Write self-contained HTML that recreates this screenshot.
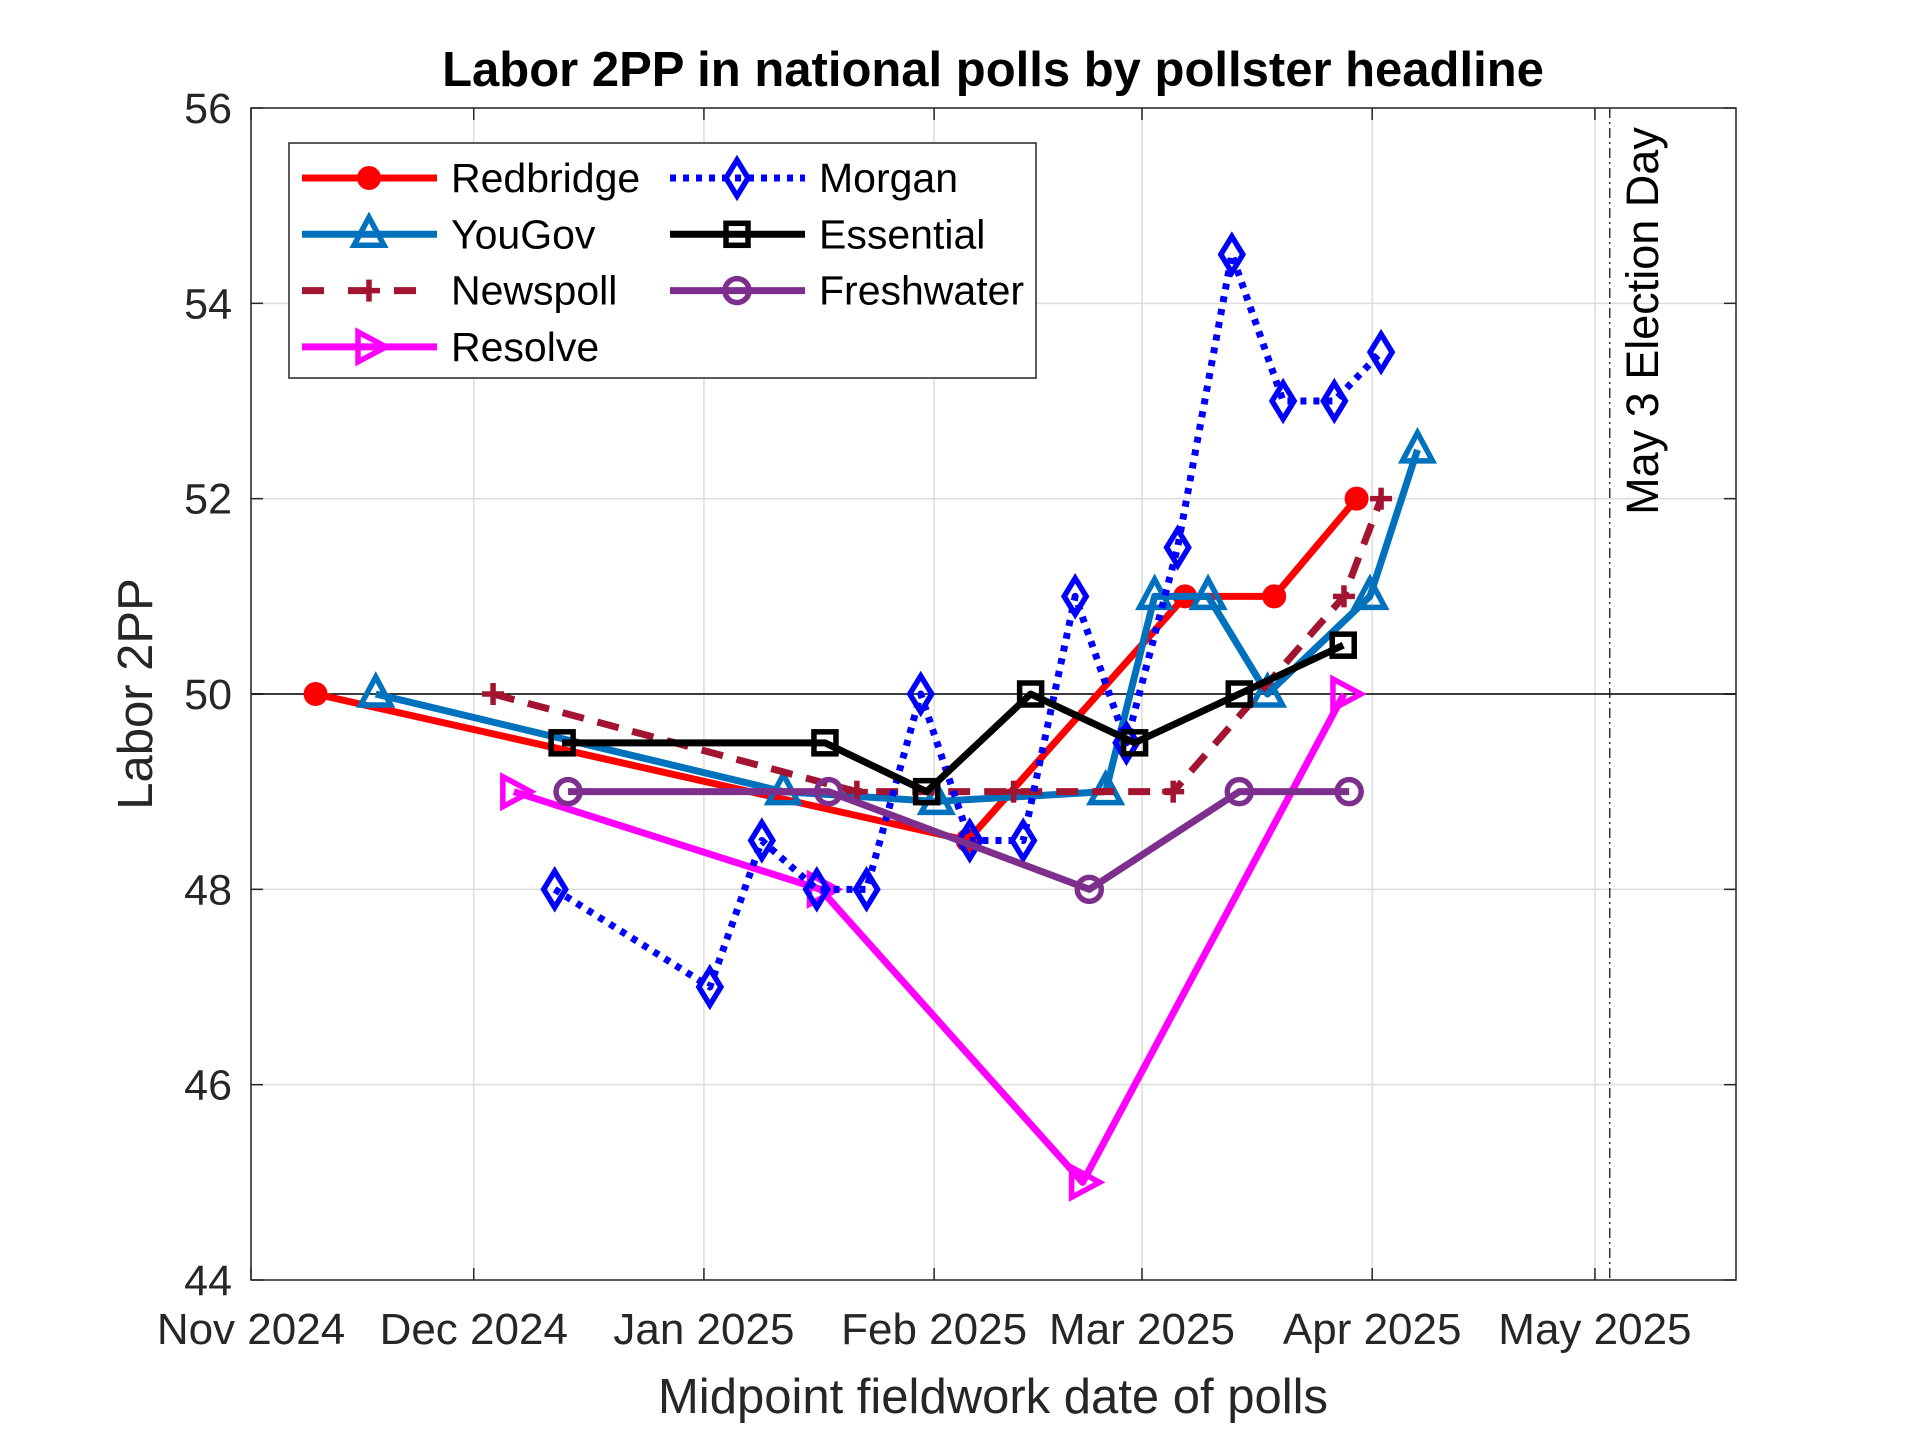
<!DOCTYPE html>
<html><head><meta charset="utf-8"><style>
html,body{margin:0;padding:0;background:#fff;}
svg text{font-family:"Liberation Sans",Arial,sans-serif;}
</style></head><body>
<svg id="chart" width="1920" height="1439" viewBox="0 0 1920 1439" xmlns="http://www.w3.org/2000/svg"></svg>
<script>
// Days since 1 Nov 2024, values Labor 2PP
const redbridgeDays=[8.7,96.5,125.8,137.8,148.9];
const redbridgeVals=[50,48.5,51,51,52];
const yougovDays=[16.8,71.7,92.3,115.1,121.7,128.9,136.9,150.7,157.1];
const yougovVals=[50,49,48.9,49,51,51,50,51,52.5];
const newspollDays=[32.6,81.6,102.7,124.2,147.2,152.2];
const newspollVals=[50,49,49,49,51,52];
const resolveDays=[35.4,76.7,112.0,147.2];
const resolveVals=[49,48,45,50];
const morganDays=[40.9,61.8,68.8,76.2,82.9,90.2,96.8,104.0,111.0,117.9,124.8,132.1,139.0,145.9,152.2];
const morganVals=[48,47,48.5,48,48,50,48.5,48.5,51,49.5,51.5,54.5,53,53,53.5];
const essentialDays=[41.9,77.3,91.0,105.0,119.0,133.1,147.1];
const essentialVals=[49.5,49.5,49,50,49.5,50,50.5];
const freshwaterDays=[42.7,77.8,112.9,133.1,147.9];
const freshwaterVals=[49,49,48,49,49];
const xTickDays=[0,30,61,92,120,151,181];
const xTickLabels=["Nov 2024","Dec 2024","Jan 2025","Feb 2025","Mar 2025","Apr 2025","May 2025"];
const yTicks=[44,46,48,50,52,54,56];
const electionDay=183;

const L=251,R=1736,T=108,B=1280,XMAX=200,YMIN=44,YMAX=56;
const sx=d=>L+d*(R-L)/XMAX;
const sy=v=>B-(v-YMIN)*(B-T)/(YMAX-YMIN);
const svg=document.getElementById('chart');
const NS='http://www.w3.org/2000/svg';
function mk(tag,attrs,parent){const e=document.createElementNS(NS,tag);for(const k in attrs)e.setAttribute(k,attrs[k]);(parent||svg).appendChild(e);return e;}

const grid=mk('g',{});


xTickDays.forEach(d=>{mk('line',{x1:sx(d),x2:sx(d),y1:T,y2:B,stroke:'#dcdcdc','stroke-width':1.5},grid);});
yTicks.forEach(v=>{mk('line',{x1:L,x2:R,y1:sy(v),y2:sy(v),stroke:'#dcdcdc','stroke-width':1.5},grid);});
xTickDays.forEach((d,i)=>{
 mk('line',{x1:sx(d),x2:sx(d),y1:B,y2:B-12,stroke:'#262626','stroke-width':1.5});
 mk('line',{x1:sx(d),x2:sx(d),y1:T,y2:T+12,stroke:'#262626','stroke-width':1.5});
 const t=mk('text',{x:sx(d),y:1344,'text-anchor':'middle','font-size':44,fill:'#262626'});
 
 
 t.textContent=xTickLabels[i];
});
yTicks.forEach(v=>{
 mk('line',{x1:L,x2:L+12,y1:sy(v),y2:sy(v),stroke:'#262626','stroke-width':1.5});
 mk('line',{x1:R,x2:R-12,y1:sy(v),y2:sy(v),stroke:'#262626','stroke-width':1.5});
 const t=mk('text',{x:232,y:sy(v)+15,'text-anchor':'end','font-size':43,fill:'#262626'});
 
 
 t.textContent=v;
});
const ref=mk('line',{x1:L,x2:R,y1:sy(50),y2:sy(50),stroke:'#000','stroke-width':1.5});


const el=mk('line',{x1:sx(electionDay),x2:sx(electionDay),y1:T,y2:B,stroke:'#000','stroke-width':1.2,'stroke-dasharray':'10,4,2,4'});


const et=mk('text',{x:0,y:0,'font-size':45,fill:'#000','text-anchor':'middle',transform:`translate(${sx(electionDay)+48},321) rotate(-90)`});


et.textContent='May 3 Election Day';

function marker(type,x,y,color,parent){
 const sw=5.5;
 if(type==='circle-f')return mk('circle',{cx:x,cy:y,r:11,fill:color,stroke:color,'stroke-width':2},parent);
 if(type==='circle')return mk('circle',{cx:x,cy:y,r:12,fill:'none',stroke:color,'stroke-width':sw},parent);
 if(type==='tri')return mk('polygon',{points:`${x},${y-17} ${x-15},${y+11} ${x+15},${y+11}`,fill:'none',stroke:color,'stroke-width':sw},parent);
 if(type==='plus'){const g=mk('g',{},parent);mk('line',{x1:x-11,x2:x+11,y1:y,y2:y,stroke:color,'stroke-width':sw},g);mk('line',{x1:x,x2:x,y1:y-11,y2:y+11,stroke:color,'stroke-width':sw},g);return g;}
 if(type==='right')return mk('polygon',{points:`${x+17},${y} ${x-11},${y-15} ${x-11},${y+15}`,fill:'none',stroke:color,'stroke-width':sw},parent);
 if(type==='diamond')return mk('polygon',{points:`${x},${y-18} ${x+11},${y} ${x},${y+18} ${x-11},${y}`,fill:'none',stroke:color,'stroke-width':sw},parent);
 if(type==='square')return mk('rect',{x:x-11,y:y-11,width:22,height:22,fill:'none',stroke:color,'stroke-width':sw},parent);
}
const series=[
 {name:'redbridge',d:redbridgeDays,v:redbridgeVals,c:'#ff0000',m:'circle-f',dash:''},
 {name:'yougov',d:yougovDays,v:yougovVals,c:'#0072bd',m:'tri',dash:''},
 {name:'newspoll',d:newspollDays,v:newspollVals,c:'#a2142f',m:'plus',dash:'22,14'},
 {name:'resolve',d:resolveDays,v:resolveVals,c:'#ff00ff',m:'right',dash:''},
 {name:'morgan',d:morganDays,v:morganVals,c:'#0000ff',m:'diamond',dash:'6,7'},
 {name:'essential',d:essentialDays,v:essentialVals,c:'#000000',m:'square',dash:''},
 {name:'freshwater',d:freshwaterDays,v:freshwaterVals,c:'#7e2f8e',m:'circle',dash:''}
];
series.forEach(s=>{
 const g=mk('g',{});
 
 
 const pts=s.d.map((d,i)=>sx(d)+','+sy(s.v[i])).join(' ');
 const attrs={points:pts,fill:'none',stroke:s.c,'stroke-width':7,'stroke-linejoin':'round'};
 if(s.dash)attrs['stroke-dasharray']=s.dash;
 mk('polyline',attrs,g);
 s.d.forEach((d,i)=>{const m=marker(s.m,sx(d),sy(s.v[i]),s.c,g);
  
  });
});
const box=mk('rect',{x:L,y:T,width:R-L,height:B-T,fill:'none',stroke:'#262626','stroke-width':1.5});


const title=mk('text',{x:993,y:86,'text-anchor':'middle','font-size':49,'font-weight':'bold',fill:'#000'});


title.textContent='Labor 2PP in national polls by pollster headline';
const xt=mk('text',{x:993,y:1413,'text-anchor':'middle','font-size':49,fill:'#262626'});


xt.textContent='Midpoint fieldwork date of polls';
const yt=mk('text',{x:0,y:0,'text-anchor':'middle','font-size':49,fill:'#262626',transform:'translate(152,694) rotate(-90)'});


yt.textContent='Labor 2PP';
const lg=mk('g',{});


mk('rect',{x:289,y:143,width:747,height:235,fill:'#fff',stroke:'#262626','stroke-width':1.5},lg);
const legendPos=[[0,0],[0,1],[0,2],[0,3],[1,0],[1,1],[1,2]];
const labels=['Redbridge','YouGov','Newspoll','Resolve','Morgan','Essential','Freshwater'];
series.forEach((s,i)=>{
 const [c,r]=legendPos[i];
 const x0=c?670:302, y=178+r*56.3;
 const e=mk('g',{},lg);
 
 
 const a={x1:x0,x2:x0+135,y1:y,y2:y,stroke:s.c,'stroke-width':7};
 if(s.dash)a['stroke-dasharray']=s.dash==='22,14'?'22,24':s.dash;
 mk('line',a,e);
 marker(s.m,x0+67,y,s.c,e);
 const t=mk('text',{x:x0+149,y:y+14,'font-size':41,fill:'#000'},e);
 t.textContent=labels[i];
});
</script>
</body></html>
